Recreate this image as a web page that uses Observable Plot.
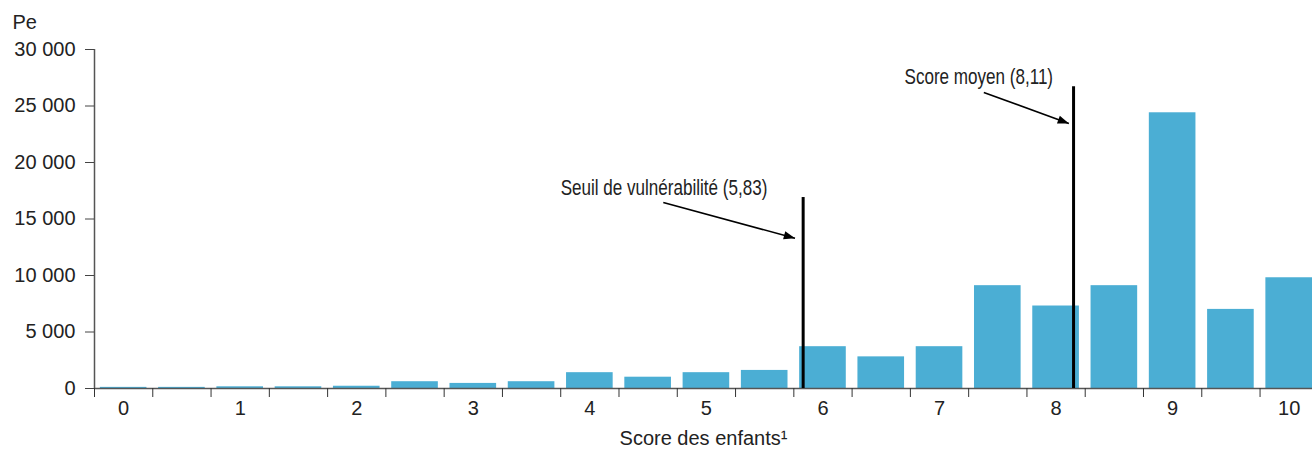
<!DOCTYPE html>
<html><head><meta charset="utf-8">
<script src="https://cdn.jsdelivr.net/npm/d3@7"></script>
<script src="https://cdn.jsdelivr.net/npm/@observablehq/plot@0.6"></script>
<style>
body{margin:0;background:#fff;}
#chart svg{display:block;}
</style>
</head><body><div id="chart"></div>
<script>
// Data
const scores = [0,0.5,1,1.5,2,2.5,3,3.5,4,4.5,5,5.5,6,6.5,7,7.5,8,8.5,9,9.5,10];
const counts = [100,100,150,150,200,600,450,600,1400,1000,1400,1600,3700,2800,3700,9100,7300,9100,24400,7000,9800];
const xTickLabels = [0,1,2,3,4,5,6,7,8,9,10];
const xTickMarks = [-0.25,0.25,0.75,1.25,1.75,2.25,2.75,3.25,3.75,4.25,4.75,5.25,5.75,6.25,6.75,7.25,7.75,8.25,8.75,9.25,9.75];
const yTicks = [0,5000,10000,15000,20000,25000,30000];
const yLabel = "Pe";
const xLabel = "Score des enfants¹";

// Annotations (data units)
const refNames = ["Seuil de vulnérabilité (5,83)", "Score moyen (8,11)"];
const refScore = [5.83, 8.15];
const refTop = [16900, 26700];
const refLabelX = [3.75, 6.70];
const refLabelY = [17750, 27600];
const arrowX1 = [4.63, 7.38];
const arrowY1 = [16460, 26200];
const arrowX2 = [5.76, 8.11];
const arrowY2 = [13300, 23450];

const bars = scores.map((s, i) => ({s, v: counts[i]}));
const refs = refNames.map((name, i) => ({
  name, x: refScore[i], top: refTop[i], lx: refLabelX[i], ly: refLabelY[i],
  ax1: arrowX1[i], ay1: arrowY1[i], ax2: arrowX2[i], ay2: arrowY2[i]
}));

const fmt = d => d3.format(",")(d).replace(/,/g, "\u00a0");
const tickFont = "Liberation Sans, Arial, sans-serif";
const narrowFont = "Liberation Sans Narrow, Arial Narrow, Liberation Sans, sans-serif";

function filledArrow(color, context) {
  return d3.create("svg:marker")
    .attr("viewBox", "-5 -5 10 10")
    .attr("markerUnits", "userSpaceOnUse")
    .attr("markerWidth", 14)
    .attr("markerHeight", 14)
    .attr("refX", 4)
    .attr("orient", "auto")
    .attr("fill", color)
    .attr("stroke", "none")
    .call(m => m.append("path").attr("d", "M-4,-3L4,0L-4,3Z"))
    .node();
}

const chart = Plot.plot({
  width: 1312,
  height: 450,
  marginLeft: 94,
  marginRight: 0,
  marginTop: 49,
  marginBottom: 62,
  style: {fontFamily: tickFont, fontSize: "20px", color: "#222", background: "#fff"},
  x: {domain: [-0.25, 10.2]},
  y: {domain: [0, 30000]},
  marks: [
    Plot.rectY(bars, {x1: d => d.s - 0.2, x2: d => d.s + 0.2, y: "v", fill: "#4BAED4"}),
    Plot.ruleY([0], {stroke: "#555", strokeWidth: 1.5}),
    Plot.ruleX([-0.25], {y1: 0, y2: 30000, stroke: "#555", strokeWidth: 1.5}),
    Plot.axisY({ticks: yTicks, tickFormat: fmt, tickSize: 9, tickPadding: 10, label: null, stroke: "#444", fontSize: 20}),
    Plot.axisX({ticks: xTickMarks, tickFormat: () => "", tickSize: 9, label: null, stroke: "#333"}),
    Plot.axisX({ticks: xTickLabels, tickFormat: d => String(d), tickSize: 0, tickPadding: 12, fontSize: 20,
      label: xLabel, labelAnchor: "center", labelArrow: "none", labelOffset: 56}),
    Plot.text([yLabel], {frameAnchor: "top-left", dx: -82, dy: -27, textAnchor: "start", lineAnchor: "middle", fontSize: 20, fill: "#222"}),
    Plot.ruleX(refs, {x: "x", y1: 0, y2: "top", stroke: "#000", strokeWidth: 3}),
    Plot.link(refs, {x1: "ax1", y1: "ay1", x2: "ax2", y2: "ay2", stroke: "#000", strokeWidth: 1.6, markerEnd: filledArrow}),
    Plot.text(refs, {x: "lx", y: "ly", text: "name", textAnchor: "start", lineAnchor: "middle", fontSize: 22, fontFamily: narrowFont, fill: "#222"})
  ]
});
document.getElementById("chart").appendChild(chart);

// Condense the annotation labels (the original uses a condensed face)
const textGroups = chart.querySelectorAll('g[aria-label="text"]');
const annot = textGroups[textGroups.length - 1];
annot.querySelectorAll("text").forEach(t => {
  const w = t.getComputedTextLength();
  t.setAttribute("textLength", (w * 0.775).toFixed(1));
  t.setAttribute("lengthAdjust", "spacingAndGlyphs");
});
</script>
</body></html>
